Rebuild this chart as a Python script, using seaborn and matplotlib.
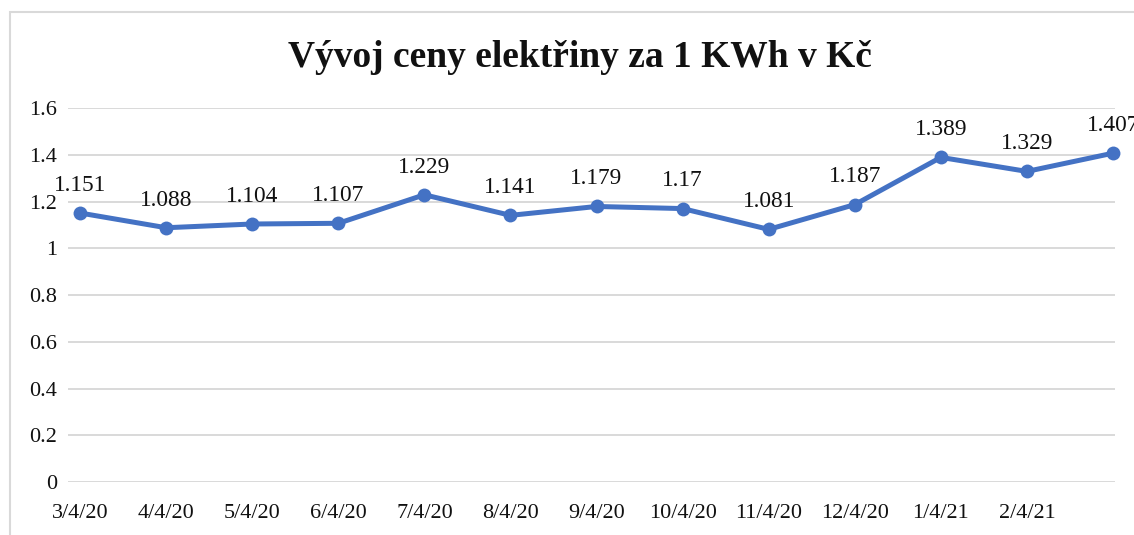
import numpy as np
import pandas as pd
import matplotlib
matplotlib.use("Agg")
import matplotlib.pyplot as plt
import seaborn as sns
from matplotlib.patches import Rectangle
from matplotlib.ticker import FuncFormatter

# data
dates = ["3/4/20", "4/4/20", "5/4/20", "6/4/20", "7/4/20", "8/4/20", "9/4/20",
         "10/4/20", "11/4/20", "12/4/20", "1/4/21", "2/4/21", "3/4/21"]
prices = [1.151, 1.088, 1.104, 1.107, 1.229, 1.141, 1.179,
          1.17, 1.081, 1.187, 1.389, 1.329, 1.407]
y_ticks = [0, 0.2, 0.4, 0.6, 0.8, 1, 1.2, 1.4, 1.6]

sns.set_style("white")
plt.rcParams["font.family"] = ["Liberation Serif", "DejaVu Serif"]

df = pd.DataFrame({"pos": np.arange(len(dates)), "price": prices})

fig = plt.figure(figsize=(11.34, 5.35), dpi=100)
ax = fig.add_axes([0.060, 0.099, 0.923, 0.699])

blue = "#4472C4"
sns.lineplot(data=df, x="pos", y="price", ax=ax, color=blue, linewidth=3.6,
             marker="o", markersize=10, markeredgewidth=0, clip_on=False, zorder=3)

# value labels above points
for xi, yi in zip(df["pos"], df["price"]):
    ax.annotate(f"{yi:g}", (xi, yi), xytext=(0, 16), textcoords="offset points",
                ha="center", va="baseline", fontsize=16.8, color="#111111",
                annotation_clip=False)

ax.set_ylim(0, 1.6)
ax.set_yticks(y_ticks)
ax.yaxis.set_major_formatter(FuncFormatter(lambda v, p: f"{v:g}"))
ax.set_xlim(-0.14, 12.02)
ax.set_xticks(df["pos"])
ax.set_xticklabels(dates[:-1] + [""])  # last label does not fit in the original

ax.grid(axis="y", color="#D9D9D9", linewidth=1.4)
ax.grid(axis="x", visible=False)
for s in ax.spines.values():
    s.set_visible(False)
ax.tick_params(axis="both", length=0, labelsize=16, colors="#111111")
ax.tick_params(axis="y", pad=8)
ax.tick_params(axis="x", pad=16)
ax.set_xlabel("")
ax.set_ylabel("")

fig.text(0.511, 0.893, "Vývoj ceny elektřiny za 1 KWh v Kč", ha="center", va="center",
         fontsize=27, fontweight="bold", color="#111111")

# chart frame (runs off the right and bottom edge like the screenshot)
fig.patches.append(Rectangle((10 / 1134, -0.05), 1.1, 0.05 + (535 - 12) / 535,
                             transform=fig.transFigure, fill=False,
                             edgecolor="#D9D9D9", linewidth=1.5))

fig.savefig("out.png", dpi=100)
